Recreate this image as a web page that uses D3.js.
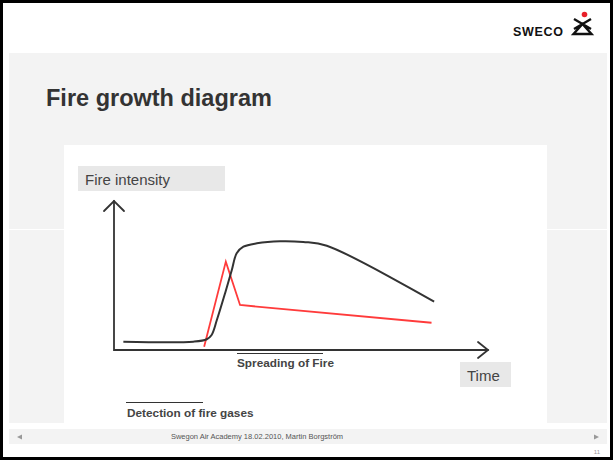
<!DOCTYPE html>
<html lang="en">
  <head>
    <meta charset="utf-8">
    <title>Fire growth diagram</title>
    <style>
      body { margin: 0; background: #fff; }
      svg { display: block; font-family: "Liberation Sans", Arial, sans-serif; }
    </style>
  </head>
  <body>
    <script src="https://d3js.org/d3.v7.min.js"></script>
    <script>
    // curve values (time 0-100, intensity 0-100)
    const fireTime      = [2.5, 21.2, 24.8, 26.1, 27.5, 29.7, 31.5, 32.8, 34.6, 38.2, 44.4, 50.6, 56.9, 85.6]
    const fireIntensity = [5.6, 5.6, 7.2, 10.1, 20.1, 38.1, 53.7, 64.9, 69.3, 71.6, 73.0, 72.5, 70.0, 32.4]
    const gasTime       = [24.1, 29.9, 33.7, 84.9]
    const gasIntensity  = [2.2, 59.3, 30.2, 18.3]

    const axisLabels = ["Fire intensity", "Time"]
    const phaseLabels = ["Spreading of Fire", "Detection of fire gases"]
    const title = "Fire growth diagram"
    const footer = "Swegon Air Academy 18.02.2010, Martin Borgström"
    const pageNo = "11"

    const w = 613
    const h = 461

    const svg = d3.select("body").append("svg")
      .attr("width", w)
      .attr("height", h)

    // slide background
    svg.append("rect").attr("x", 0).attr("y", 0).attr("width", w).attr("height", h).attr("fill", "#fff")
    svg.append("rect").attr("x", 9).attr("y", 53).attr("width", 598).attr("height", 370).attr("fill", "#f3f3f3")
    svg.append("line").attr("x1", 9).attr("x2", 607).attr("y1", 229.5).attr("y2", 229.5)
      .attr("stroke", "#fff").attr("stroke-width", 1)
    svg.append("rect").attr("x", 64).attr("y", 145).attr("width", 483).attr("height", 284).attr("fill", "#fff")
    svg.append("rect").attr("x", 9).attr("y", 429).attr("width", 598).attr("height", 15).attr("fill", "#f3f3f3")

    // logo
    const logo = svg.append("g")
    logo.append("text").attr("x", 513).attr("y", 36)
      .attr("font-size", 12.5).attr("font-weight", "bold").attr("letter-spacing", 0.7)
      .attr("fill", "#111").text("SWECO")
    logo.append("circle").attr("cx", 584.5).attr("cy", 14.5).attr("r", 2.8).attr("fill", "#e8202a")
    logo.append("path")
      .attr("d", "M574,19 L591,29 M591,19 L574,29 M582.5,24 L573.5,34 L591.5,34 Z")
      .attr("fill", "none").attr("stroke", "#111").attr("stroke-width", 2.4).attr("stroke-linejoin", "miter")

    // title
    svg.append("text").attr("x", 46).attr("y", 106)
      .attr("font-size", 23.5).attr("font-weight", "bold").attr("fill", "#333")
      .text(title)

    // chart
    const xScale = d3.scaleLinear().domain([0, 100]).range([114, 488])
    const yScale = d3.scaleLinear().domain([0, 100]).range([350, 201])

    const axisColor = "#333"
    const axes = svg.append("g").attr("stroke", axisColor).attr("stroke-width", 1.8)
      .attr("fill", "none").attr("stroke-linecap", "round")

    axes.append("path").attr("d", d3.line()([
      [xScale(0), yScale(100)], [xScale(0), yScale(0)], [xScale(100), yScale(0)]
    ]))
    axes.append("path").attr("d", d3.line()([
      [xScale(0) - 10, yScale(100) + 10], [xScale(0), yScale(100)], [xScale(0) + 10, yScale(100) + 10]
    ]))
    axes.append("path").attr("d", d3.line()([
      [xScale(100) - 10, yScale(0) - 8], [xScale(100), yScale(0)], [xScale(100) - 10, yScale(0) + 8]
    ]))

    // axis label boxes
    const labelBox = [
      { x: 78, y: 166, w: 147, h: 25, size: 15 },
      { x: 460, y: 362, w: 51, h: 25, size: 15 }
    ]
    axisLabels.forEach((t, i) => {
      const b = labelBox[i]
      svg.append("rect").attr("x", b.x).attr("y", b.y).attr("width", b.w).attr("height", b.h).attr("fill", "#e8e8e8")
      svg.append("text").attr("x", b.x + 7).attr("y", b.y + 19)
        .attr("font-size", b.size).attr("fill", "#444").text(t)
    })

    const fireLine = d3.line()
      .x(d => xScale(d[0]))
      .y(d => yScale(d[1]))
      .curve(d3.curveCatmullRom.alpha(0.5))

    const gasLine = d3.line()
      .x(d => xScale(d[0]))
      .y(d => yScale(d[1]))

    svg.append("path")
      .datum(gasTime.map((t, i) => [t, gasIntensity[i]]))
      .attr("d", gasLine)
      .attr("fill", "none").attr("stroke", "#ff3b3b").attr("stroke-width", 1.8)

    svg.append("path")
      .datum(fireTime.map((t, i) => [t, fireIntensity[i]]))
      .attr("d", fireLine)
      .attr("fill", "none").attr("stroke", "#333").attr("stroke-width", 2)

    // phase labels with rule above
    const phasePos = [
      { x: 237, y: 367, rule: [237, 323, 353] },
      { x: 127, y: 417, rule: [126, 203, 402] }
    ]
    phaseLabels.forEach((t, i) => {
      const p = phasePos[i]
      svg.append("line").attr("x1", p.rule[0]).attr("x2", p.rule[1])
        .attr("y1", p.rule[2] + 0.5).attr("y2", p.rule[2] + 0.5)
        .attr("stroke", "#333").attr("stroke-width", 1)
      svg.append("text").attr("x", p.x).attr("y", p.y)
        .attr("font-size", 11.8).attr("font-weight", "bold").attr("fill", "#444").text(t)
    })

    // footer
    svg.append("text").attr("x", 257).attr("y", 439).attr("text-anchor", "middle")
      .attr("font-size", 7.5).attr("fill", "#555").text(footer)
    svg.append("path").attr("d", "M17,437 L22,434.5 L22,439.5 Z").attr("fill", "#999")
    svg.append("path").attr("d", "M599,437 L594,434.5 L594,439.5 Z").attr("fill", "#999")
    svg.append("text").attr("x", 600).attr("y", 454).attr("text-anchor", "end")
      .attr("font-size", 6).attr("fill", "#999").text(pageNo)

    // slide frame
    svg.append("rect").attr("x", 1.5).attr("y", 1.5).attr("width", w - 3).attr("height", h - 4)
      .attr("fill", "none").attr("stroke", "#000").attr("stroke-width", 3)
    svg.append("line").attr("x1", 0).attr("x2", w).attr("y1", 458.5).attr("y2", 458.5)
      .attr("stroke", "#000").attr("stroke-width", 3)
    </script>
  </body>
</html>
